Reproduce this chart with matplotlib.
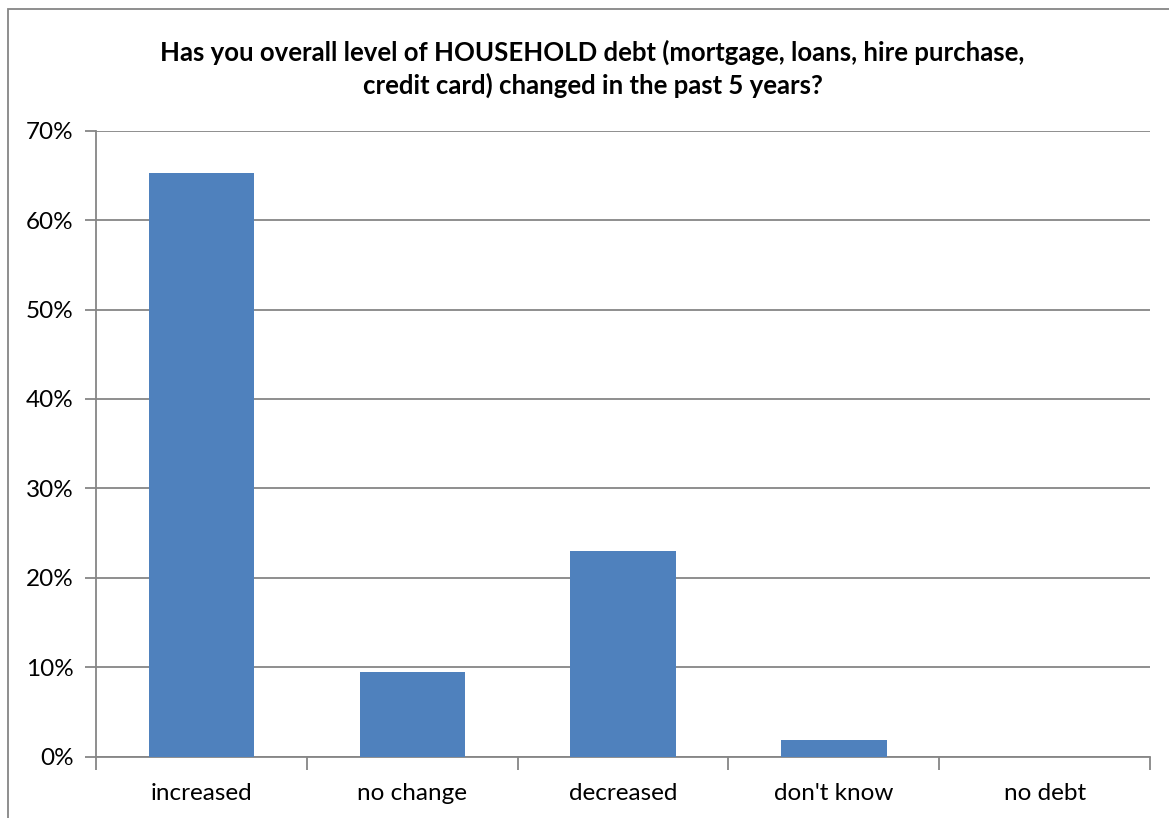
import numpy as np
import matplotlib.pyplot as plt
from matplotlib.patches import Rectangle

categories = ['increased', 'no change', 'decreased', "don't know", 'no debt']
shares = [65.3, 9.5, 23.0, 1.9, 0.0]          # percent of respondents
yticks = [0, 10, 20, 30, 40, 50, 60, 70]

bar_color = '#4F81BD'
grid_color = '#868686'

plt.rcParams['font.family'] = ['Lato', 'DejaVu Sans']

fig = plt.figure(figsize=(11.69, 8.18), dpi=100)
ax = fig.add_axes([96/1169, (818-756.7)/818, (1150-96)/1169, (756.7-130.7)/818])

x = np.arange(len(categories))
ax.bar(x, shares, width=0.5, color=bar_color, zorder=3)

ax.set_xlim(-0.5, len(categories) - 0.5)
ax.set_ylim(0, 70)

# horizontal gridlines
ax.set_yticks(yticks)
ax.set_yticklabels([f'{v}%' for v in yticks], fontsize=17.5)
ax.yaxis.grid(True, color=grid_color, linewidth=1.3, zorder=0)

# category labels centred, tick marks between categories
ax.set_xticks(x)
ax.set_xticklabels(categories, fontsize=17.5)
ax.set_xticks(np.arange(-0.5, len(categories)), minor=True)
ax.tick_params(axis='x', which='major', length=0, pad=19)
ax.tick_params(axis='x', which='minor', length=9, width=1.3, color=grid_color, direction='out')
ax.tick_params(axis='y', length=8, width=1.3, color=grid_color, direction='out', pad=8)

for side in ['top', 'right']:
    ax.spines[side].set_visible(False)
for side in ['left', 'bottom']:
    ax.spines[side].set_color(grid_color)
    ax.spines[side].set_linewidth(1.3)

fig.text(0.507, 1 - 69/818,
         'Has you overall level of HOUSEHOLD debt (mortgage, loans, hire purchase,\n'
         'credit card) changed in the past 5 years?',
         ha='center', va='center', fontsize=18.5, fontweight='bold', linespacing=1.35)

# chart border
fig.patches.append(Rectangle((8/1169, -0.1), 1.2, 1 - 9/818 + 0.1,
                             transform=fig.transFigure, fill=False,
                             edgecolor=grid_color, linewidth=1.3))

fig.savefig('out.png', dpi=100)
